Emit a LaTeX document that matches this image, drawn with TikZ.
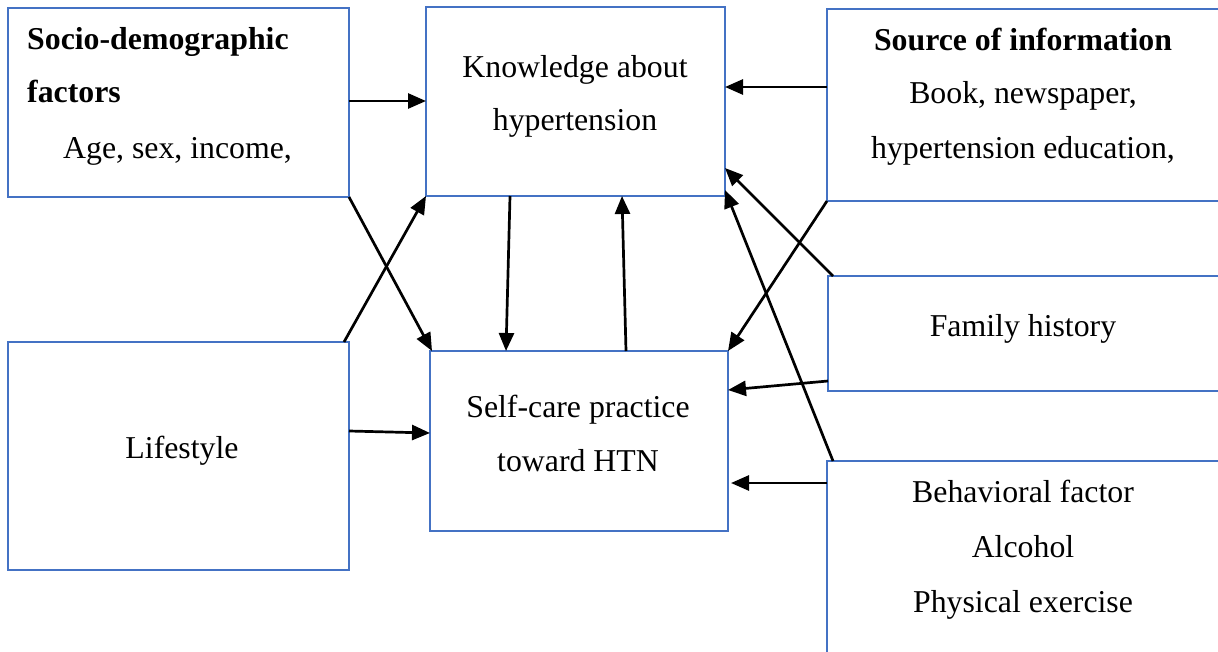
\documentclass[tikz,border=0pt]{standalone}
\usepackage{fontspec}
\setmainfont{Liberation Serif}
\usetikzlibrary{arrows.meta}
\definecolor{boxblue}{HTML}{4472C4}
\tikzset{
  box/.style={draw=boxblue, line width=2pt, rectangle, inner sep=0pt, outer sep=0pt},
  txt/.style={anchor=base, inner sep=0pt, font=\fontsize{31.8}{38}\selectfont},
  btxt/.style={anchor=base west, inner sep=0pt, font=\fontsize{31.8}{38}\selectfont\bfseries},
  arr/.style={line width=2.7pt, -{Triangle[length=18pt,width=15pt]}}
}
\begin{document}
\begin{tikzpicture}[x=1pt,y=-1pt]
\useasboundingbox (0,0) rectangle (1218,651);
\clip (0,0) rectangle (1218,651);
% boxes
\node[box, minimum width=341pt, minimum height=189pt] (socio) at (178.5,102.5) {};
\node[box, minimum width=299pt, minimum height=189pt] (know) at (575.5,101.5) {};
\node[box, minimum width=413pt, minimum height=192pt] (source) at (1033.5,105) {};
\node[box, minimum width=412pt, minimum height=115pt] (family) at (1034,333.5) {};
\node[box, minimum width=413pt, minimum height=209pt] (behav) at (1033.5,565.5) {};
\node[box, minimum width=341pt, minimum height=228pt] (life) at (178.5,456) {};
\node[box, minimum width=298pt, minimum height=180pt] (self) at (579,441) {};
% texts
\node[btxt] (s1) at (27,49) {Socio-demographic};
\node[btxt] (s2) at (27,102) {factors};
\node[txt, anchor=base west] (s3) at (63,158) {Age, sex, income,};
\node[txt] (k1) at (575,77) {Knowledge about};
\node[txt] (k2) at (575,130) {hypertension};
\node[txt, font=\fontsize{31.8}{38}\selectfont\bfseries] (o1) at (1023,50) {Source of information};
\node[txt] (o2) at (1023,103) {Book, newspaper,};
\node[txt] (o3) at (1023,158) {hypertension education,};
\node[txt] (f1) at (1023,336) {Family history};
\node[txt] (b1) at (1023,502) {Behavioral factor};
\node[txt] (b2) at (1023,557) {Alcohol};
\node[txt] (b3) at (1023,612) {Physical exercise};
\node[txt] (l1) at (182,458) {Lifestyle};
\node[txt] (c1) at (578,417) {Self-care practice};
\node[txt] (c2) at (578,471) {toward HTN};
% arrows
\draw[arr] ([yshift=1.5pt]socio.east) -- ([yshift=1.5pt]socio.east -| know.west);
\draw[arr] ([yshift=18pt]source.west) -- ([yshift=18pt]source.west -| know.east);
\draw[arr] (socio.south east) -- ([xshift=2pt]self.north west);
\draw[arr] ([xshift=-5pt]life.north east) -- (know.south west);
\draw[arr] ([xshift=-65.5pt]know.south) -- ([xshift=-73pt]self.north);
\draw[arr] ([xshift=47pt]self.north) -- ([xshift=46.5pt]know.south);
\draw[arr] (source.south west) -- (self.north east);
\draw[arr] ([xshift=5pt]family.north west) -- ([yshift=-66.5pt]know.east);
\draw[arr] ([xshift=6pt]behav.north west) -- ([yshift=-88.5pt]know.east);
\draw[arr] ([yshift=-47.5pt]family.west) -- ([yshift=51pt]self.east);
\draw[arr] ([yshift=82.5pt]behav.west) -- ([yshift=82.5pt,xshift=3pt]behav.west -| self.east);
\draw[arr] ([yshift=25pt]life.east) -- ([yshift=8pt]self.west);
\end{tikzpicture}
\end{document}
